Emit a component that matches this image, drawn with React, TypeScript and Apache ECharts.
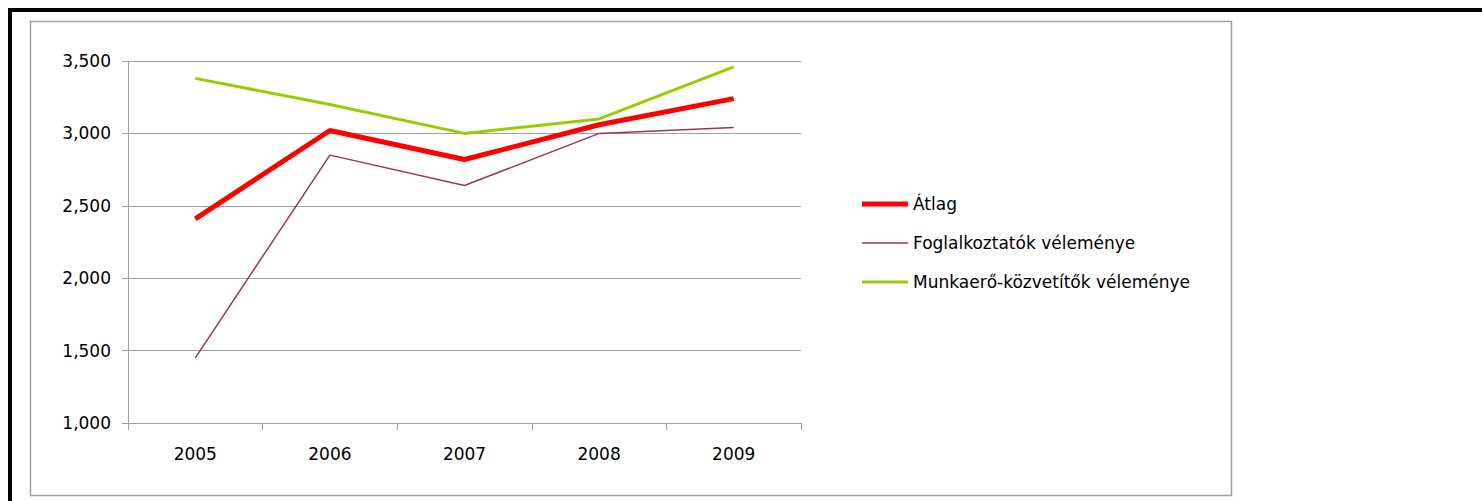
import React, { useEffect, useRef } from "react";
import * as echarts from "echarts";

const years = ["2005", "2006", "2007", "2008", "2009"];
const atlag = [2.41, 3.02, 2.82, 3.06, 3.24];
const foglalkoztatok = [1.45, 2.85, 2.64, 3.0, 3.04];
const munkaero = [3.38, 3.2, 3.0, 3.1, 3.46];
const seriesNames = ["Átlag", "Foglalkoztatók véleménye", "Munkaerő-közvetítők véleménye"];

const FONT = "DejaVu Sans";

export default function App() {
  const ref = useRef<HTMLDivElement>(null);
  useEffect(() => {
    if (!ref.current) return;
    const chart = echarts.init(ref.current, undefined, { renderer: "svg" });
    chart.setOption({
      animation: false,
      backgroundColor: "#ffffff",
      textStyle: { fontFamily: FONT },
      graphic: [
        { type: "rect", shape: { x: 8, y: 8, width: 1474, height: 4 }, style: { fill: "#000" }, silent: true },
        { type: "rect", shape: { x: 8, y: 8, width: 4, height: 493 }, style: { fill: "#000" }, silent: true },
        {
          type: "rect",
          shape: { x: 30.5, y: 21.5, width: 1201, height: 474 },
          style: { fill: "none", stroke: "#a0a0a0", lineWidth: 1.5 },
          silent: true,
        },
      ],
      grid: { left: 128, top: 61, right: 681, bottom: 78, containLabel: false },
      legend: {
        orient: "vertical",
        left: 862,
        top: 194,
        padding: 0,
        itemWidth: 46,
        itemHeight: 14,
        itemGap: 19,
        data: [
          { name: seriesNames[0], icon: "path://M0,0H46V5H0Z" },
          { name: seriesNames[1], icon: "path://M0,0H46V1.5H0Z" },
          { name: seriesNames[2], icon: "path://M0,0H46V3H0Z" },
        ],
        textStyle: { fontFamily: FONT, fontSize: 17, color: "#000", lineHeight: 20 },
      },
      xAxis: {
        type: "category",
        data: years,
        boundaryGap: true,
        axisLine: { show: true, lineStyle: { color: "#a0a0a0", width: 1 } },
        axisTick: { show: true, length: 7, lineStyle: { color: "#a0a0a0" } },
        axisLabel: { color: "#000", fontFamily: FONT, fontSize: 17, margin: 22 },
        splitLine: { show: false },
      },
      yAxis: {
        type: "value",
        min: 1,
        max: 3.5,
        interval: 0.5,
        axisLine: { show: true, lineStyle: { color: "#a0a0a0", width: 1 } },
        axisTick: { show: true, length: 6, lineStyle: { color: "#a0a0a0" } },
        axisLabel: {
          color: "#000",
          fontFamily: FONT,
          fontSize: 17,
          margin: 17,
          formatter: (v: number) => v.toFixed(3).replace(".", ","),
        },
        splitLine: { show: true, lineStyle: { color: "#a0a0a0", width: 1 } },
      },
      series: [
        {
          name: seriesNames[0],
          type: "line",
          data: atlag,
          symbol: "none",
          color: "#ff0000",
          lineStyle: { color: "#ff0000", width: 5 },
          z: 4,
        },
        {
          name: seriesNames[1],
          type: "line",
          data: foglalkoztatok,
          symbol: "none",
          color: "#993366",
          lineStyle: { color: "#993366", width: 1.5 },
          z: 3,
        },
        {
          name: seriesNames[2],
          type: "line",
          data: munkaero,
          symbol: "none",
          color: "#99cc00",
          lineStyle: { color: "#99cc00", width: 3 },
          z: 2,
        },
      ],
    });
    return () => chart.dispose();
  }, []);
  return (
    <div
      ref={ref}
      style={{ position: "fixed", left: 0, top: 0, width: 1482, height: 501 }}
    />
  );
}
